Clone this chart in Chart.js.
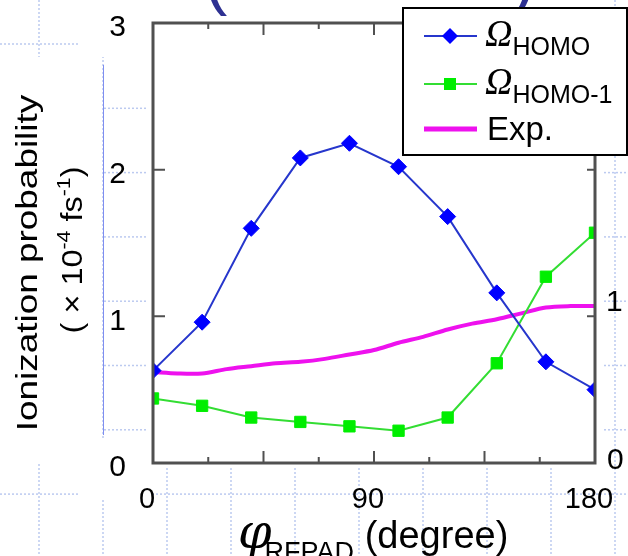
<!DOCTYPE html>
<html>
<head>
<meta charset="utf-8">
<script src="https://cdn.jsdelivr.net/npm/chart.js@4.4.0/dist/chart.umd.min.js"></script>
<style>
  html, body { margin: 0; padding: 0; background: #fff; }
  #wrap { width: 628px; height: 556px; position: relative; }
</style>
</head>
<body>
<div id="wrap"><canvas id="myChart" width="628" height="556"></canvas></div>
<script>
'use strict';

// angle of the RFPAD (degree)
const angles = [0, 20, 40, 60, 80, 100, 120, 140, 160, 180];
const homoVals = [0.63, 0.96, 1.60, 2.08, 2.18, 2.02, 1.68, 1.16, 0.69, 0.50];
const homo1Vals = [0.44, 0.39, 0.31, 0.28, 0.25, 0.22, 0.31, 0.68, 1.27, 1.57];

// experiment, read every 10 degrees
const expAngles = [0, 10, 20, 30, 40, 50, 60, 70, 80, 90, 100, 110, 120, 130, 140, 150, 160, 170, 180];
const expVals = [0.62, 0.61, 0.61, 0.64, 0.66, 0.68, 0.69, 0.71, 0.74, 0.77, 0.82, 0.86, 0.91, 0.95, 0.98, 1.02, 1.06, 1.07, 1.07];

const xTicks = [0, 90, 180];
const yTicks = [0, 1, 2, 3];
const seriesNames = ['HOMO', 'HOMO-1', 'Exp.'];

const yTitle1 = 'Ionization probability';
const yTitle2 = ['( \u00d7 10', '-4', ' fs', '-1', ')'];
const xTitle = ['\u03c6', 'RFPAD', ' (degree)'];

const toPts = (xs, ys) => xs.map((x, i) => ({ x: x, y: ys[i] }));

const TICK_FONT = "Arial, 'Liberation Sans', sans-serif";

const bgPlugin = {
  id: 'bg',
  beforeDraw(chart) {
    const ctx = chart.ctx;
    const W = chart.width, H = chart.height;
    ctx.save();
    ctx.fillStyle = '#fff';
    ctx.fillRect(0, 0, W, H);
    // slide grid
    ctx.strokeStyle = '#bccaf0';
    ctx.lineWidth = 1.5;
    ctx.setLineDash([2, 2]);
    for (let gx = 39; gx < W; gx += 64) {
      ctx.beginPath(); ctx.moveTo(gx, 0); ctx.lineTo(gx, H); ctx.stroke();
    }
    for (let gy = 44; gy < H; gy += 64.3) {
      ctx.beginPath(); ctx.moveTo(0, gy); ctx.lineTo(W, gy); ctx.stroke();
    }
    ctx.setLineDash([]);
    ctx.fillStyle = '#fff';
    ctx.fillRect(80, 0, 66, 57);
    ctx.fillRect(0, 57, 102, 405);
    ctx.fillRect(80, 440, 70, 58);
    ctx.fillRect(146, 0, 456, 468);
    // blue rule beside the y title
    ctx.strokeStyle = '#7f8ff0';
    ctx.lineWidth = 1;
    ctx.beginPath(); ctx.moveTo(103.5, 65); ctx.lineTo(103.5, 435); ctx.stroke();
    // pieces of the slide title above
    ctx.fillStyle = '#2e3192';
    ctx.font = "70px Arial, 'Liberation Sans', sans-serif";
    ctx.textBaseline = 'alphabetic';
    ctx.fillText('(', 204, 1);
    ctx.fillText(')', 512, 1);
    ctx.restore();
  }
};

const framePlugin = {
  id: 'frame',
  afterDraw(chart) {
    const ctx = chart.ctx;
    const a = chart.chartArea;
    const xs = chart.scales.x, ys = chart.scales.y;
    ctx.save();
    ctx.strokeStyle = '#505050';
    ctx.lineWidth = 3;
    ctx.strokeRect(a.left, a.top, a.right - a.left, a.bottom - a.top);
    ctx.lineWidth = 2;
    // inner ticks on x (every 22.5 deg, long every 45)
    for (let v = 22.5; v < 180; v += 22.5) {
      const px = xs.getPixelForValue(v);
      const len = (v % 45 === 0) ? 12 : 6;
      ctx.beginPath();
      ctx.moveTo(px, a.bottom); ctx.lineTo(px, a.bottom - len);
      ctx.moveTo(px, a.top); ctx.lineTo(px, a.top + len);
      ctx.stroke();
    }
    [1, 2].forEach(v => {
      const py = ys.getPixelForValue(v);
      ctx.beginPath();
      ctx.moveTo(a.left, py); ctx.lineTo(a.left + 12, py);
      ctx.moveTo(a.right, py); ctx.lineTo(a.right - 8, py);
      ctx.stroke();
    });

    // y title (the source figure is stretched vertically)
    ctx.fillStyle = '#000';
    ctx.textBaseline = 'alphabetic';
    ctx.save();
    ctx.translate(37, 263);
    ctx.rotate(-Math.PI / 2);
    ctx.scale(1.23, 1);
    ctx.font = "30px Arial, 'Liberation Sans', sans-serif";
    ctx.textAlign = 'center';
    ctx.fillText(yTitle1, 0, 0);
    ctx.restore();

    ctx.save();
    ctx.translate(82, 250);
    ctx.rotate(-Math.PI / 2);
    ctx.scale(1.12, 1);
    const big = "29px Arial, 'Liberation Sans', sans-serif";
    const small = "19px Arial, 'Liberation Sans', sans-serif";
    const parts = yTitle2.map((t, i) => ({ t: t, sup: i % 2 === 1 }));
    let tot = 0;
    parts.forEach(p => { ctx.font = p.sup ? small : big; tot += ctx.measureText(p.t).width; });
    let cx = -tot / 2;
    ctx.textAlign = 'left';
    parts.forEach(p => {
      ctx.font = p.sup ? small : big;
      ctx.fillText(p.t, cx, p.sup ? -12 : 0);
      cx += ctx.measureText(p.t).width;
    });
    ctx.restore();

    // x title
    ctx.textAlign = 'left';
    let tx = 238;
    ctx.font = "italic 48px 'DejaVu Serif', serif";
    ctx.fillText(xTitle[0], tx, 548);
    tx += ctx.measureText(xTitle[0]).width - 7;
    ctx.font = "27px Arial, 'Liberation Sans', sans-serif";
    ctx.fillText(xTitle[1], tx, 561);
    tx += ctx.measureText(xTitle[1]).width;
    ctx.font = "38px Arial, 'Liberation Sans', sans-serif";
    ctx.fillText(xTitle[2], tx, 548);

    // neighbouring axis labels at the right edge
    ctx.font = '30px ' + TICK_FONT;
    ctx.textBaseline = 'middle';
    ctx.fillText('1', 606, 303);
    ctx.fillText('0', 607, 461);

    // legend
    const L = { x: 403, y: 8, w: 224, h: 147 };
    ctx.fillStyle = '#fff';
    ctx.fillRect(L.x, L.y, L.w, L.h);
    ctx.strokeStyle = '#000';
    ctx.lineWidth = 2;
    ctx.strokeRect(L.x, L.y, L.w, L.h);
    const rows = [36, 84, 129];
    chart.data.datasets.forEach((ds, i) => {
      const ry = rows[i];
      ctx.strokeStyle = ds.borderColor;
      ctx.lineWidth = i === 2 ? 5 : 2;
      ctx.beginPath(); ctx.moveTo(424, ry); ctx.lineTo(477, ry); ctx.stroke();
      if (ds.pointRadius > 0) {
        ctx.fillStyle = ds.pointBackgroundColor;
        ctx.beginPath();
        if (ds.pointStyle === 'rectRot') {
          const r = 8;
          ctx.moveTo(450, ry - r); ctx.lineTo(450 + r, ry); ctx.lineTo(450, ry + r); ctx.lineTo(450 - r, ry);
          ctx.closePath();
        } else {
          ctx.rect(444, ry - 6, 12, 12);
        }
        ctx.fill();
      }
      ctx.fillStyle = '#000';
      ctx.textBaseline = 'alphabetic';
      if (i < 2) {
        ctx.font = "italic 38px 'Liberation Serif', 'Times New Roman', serif";
        ctx.fillText('\u03a9', 485, ry + 10);
        const ow = ctx.measureText('\u03a9').width;
        ctx.font = "25px Arial, 'Liberation Sans', sans-serif";
        ctx.fillText(seriesNames[i], 485 + ow, ry + 19);
      } else {
        ctx.font = "33px Arial, 'Liberation Sans', sans-serif";
        ctx.fillText(seriesNames[i], 487, ry + 11);
      }
    });
    ctx.restore();
  }
};

const ctx = document.getElementById('myChart').getContext('2d');

const chart = new Chart(ctx, {
  type: 'line',
  data: {
    datasets: [{
      label: seriesNames[0],
      data: toPts(angles, homoVals),
      borderColor: '#2636cc',
      borderWidth: 2,
      pointStyle: 'rectRot',
      pointRadius: 8,
      pointBackgroundColor: '#0000ff',
      pointBorderColor: '#0000ff',
      pointBorderWidth: 1,
      tension: 0
    }, {
      label: seriesNames[1],
      data: toPts(angles, homo1Vals),
      borderColor: '#33dd33',
      borderWidth: 2,
      pointStyle: 'rect',
      pointRadius: 8,
      pointBackgroundColor: '#00ee00',
      pointBorderColor: '#00ee00',
      pointBorderWidth: 1,
      tension: 0
    }, {
      label: seriesNames[2],
      data: toPts(expAngles, expVals),
      borderColor: '#ee11ee',
      borderWidth: 4,
      pointRadius: 0,
      tension: 0.3
    }]
  },
  options: {
    responsive: false,
    animation: false,
    layout: { padding: { left: 0, right: 33, top: 23, bottom: 0 } },
    plugins: { legend: { display: false }, tooltip: { enabled: false } },
    scales: {
      x: {
        type: 'linear',
        min: 0, max: 180,
        grid: { display: false, drawTicks: false },
        border: { display: false },
        afterFit: s => { s.height = 93; s.paddingLeft = 0; s.paddingRight = 0; },
        afterBuildTicks: s => { s.ticks = xTicks.map(v => ({ value: v })); },
        ticks: { font: { size: 29, family: TICK_FONT }, color: '#000', padding: 20, labelOffset: -6, maxRotation: 0 }
      },
      y: {
        min: 0, max: 3,
        grid: { display: false, drawTicks: false },
        border: { display: false },
        afterFit: s => { s.width = 153; s.paddingTop = 0; s.paddingBottom = 0; },
        afterBuildTicks: s => { s.ticks = yTicks.map(v => ({ value: v })); },
        ticks: { font: { size: 30, family: TICK_FONT }, color: '#000', padding: 27, labelOffset: 5 }
      }
    }
  },
  plugins: [bgPlugin, framePlugin]
});
</script>
</body>
</html>
